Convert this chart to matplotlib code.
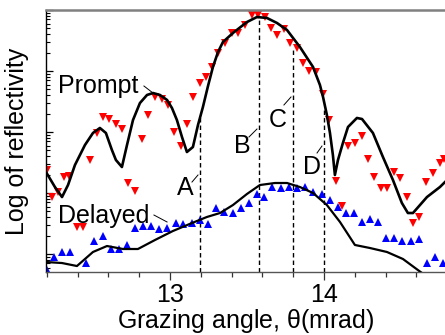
import matplotlib
matplotlib.use("Agg")
import matplotlib.pyplot as plt
import matplotlib.ticker as mticker
import numpy as np

plt.rcParams['font.family'] = ['Liberation Sans', 'DejaVu Sans']

### data (log10 of reflectivity, arbitrary units)
prompt_x = [12.195, 12.253, 12.299, 12.338, 12.383, 12.448, 12.5, 12.545, 12.584, 12.623,
            12.649, 12.688, 12.721, 12.760, 12.805, 12.851, 12.890, 12.935, 12.981, 13.013,
            13.045, 13.078, 13.110, 13.149, 13.182, 13.214, 13.247, 13.279, 13.312, 13.344,
            13.409, 13.5, 13.565, 13.630, 13.695, 13.760, 13.844, 13.929, 13.974, 13.994,
            14.019, 14.039, 14.058, 14.071, 14.091, 14.123, 14.156, 14.214, 14.247, 14.318,
            14.383, 14.448, 14.506, 14.545, 14.578, 14.669, 14.753, 14.786]
prompt_log = [1.344, 1.098, 0.934, 1.131, 1.459, 1.787, 1.984, 2.066, 1.984, 1.705,
              1.541, 1.426, 1.787, 2.197, 2.475, 2.607, 2.639, 2.607, 2.525, 2.393,
              2.197, 1.918, 1.672, 1.754, 2.115, 2.410, 2.754, 3.066, 3.311, 3.475,
              3.623, 3.803, 3.885, 3.869, 3.787, 3.672, 3.393, 3.066, 2.770, 2.574,
              2.279, 1.984, 1.623, 1.295, 1.541, 1.820, 2.082, 2.230, 2.213, 1.984,
              1.590, 1.213, 0.836, 0.672, 0.672, 0.934, 1.098, 1.180]

prompt_meas_x = [12.201, 12.234, 12.273, 12.312, 12.344, 12.396, 12.435, 12.481, 12.526, 12.565,
                 12.604, 12.649, 12.688, 12.727, 12.773, 12.818, 12.857, 12.903, 12.948, 12.987,
                 13.026, 13.071, 13.110, 13.149, 13.195, 13.234, 13.273, 13.312, 13.357, 13.403,
                 13.442, 13.487, 13.532, 13.571, 13.617, 13.656, 13.695, 13.740, 13.779, 13.825,
                 13.864, 13.903, 13.948, 13.994, 14.032, 14.078, 14.117, 14.156, 14.201, 14.247,
                 14.286, 14.325, 14.370, 14.409, 14.455, 14.494, 14.539, 14.578, 14.617, 14.662,
                 14.708, 14.753, 14.779]
prompt_meas_log = [1.377, 0.934, 1.016, 1.262, 1.279, 0.443, 0.443, 1.541, 1.984, 2.246,
                   2.213, 2.131, 2.049, 1.164, 1.033, 1.885, 2.279, 2.574, 2.541, 2.443,
                   2.0, 1.770, 2.131, 2.574, 2.803, 2.902, 3.066, 3.295, 3.459, 3.623,
                   3.623, 3.754, 3.918, 3.918, 3.885, 3.705, 3.590, 3.689, 3.459, 3.377,
                   3.131, 3.0, 2.984, 2.623, 2.197, 1.197, 0.787, 1.770, 1.820, 1.934,
                   1.557, 1.262, 1.082, 1.082, 1.344, 1.246, 0.934, 0.508, 0.607, 1.180,
                   1.328, 1.492, 1.557]

delayed_x = [12.195, 12.299, 12.396, 12.5, 12.591, 12.695, 12.792, 12.903, 13.019, 13.143,
             13.240, 13.325, 13.409, 13.5, 13.584, 13.682, 13.760, 13.844, 13.929, 14.019,
             14.104, 14.201, 14.299, 14.409, 14.513, 14.636, 14.753]
delayed_log = [-0.131, -0.148, -0.197, 0.033, 0.131, 0.082, 0.082, 0.230, 0.377, 0.508,
               0.607, 0.672, 0.803, 0.984, 1.131, 1.164, 1.164, 1.098, 1.0, 0.803,
               0.525, 0.148, 0.098, 0.033, -0.082, -0.311, -0.59]

delayed_meas_x = [12.201, 12.247, 12.299, 12.351, 12.455, 12.506, 12.565, 12.617, 12.669, 12.721,
                  12.773, 12.825, 12.877, 12.929, 12.981, 13.039, 13.084, 13.143, 13.195, 13.247,
                  13.299, 13.351, 13.409, 13.461, 13.513, 13.565, 13.610, 13.662, 13.721, 13.773,
                  13.825, 13.877, 13.929, 13.987, 14.039, 14.091, 14.143, 14.195, 14.247, 14.299,
                  14.351, 14.403, 14.455, 14.506, 14.565, 14.617, 14.669, 14.721, 14.773]
delayed_meas_log = [-0.262, -0.049, 0.033, 0.033, -0.148, 0.213, 0.295, 0.082, 0.082, 0.148,
                    0.426, 0.459, 0.459, 0.410, 0.426, 0.508, 0.492, 0.508, 0.557, 0.492,
                    0.754, 0.689, 0.672, 0.754, 0.836, 0.984, 0.934, 1.098, 1.082, 1.098,
                    1.082, 1.098, 1.016, 0.984, 0.885, 0.770, 0.672, 0.672, 0.525, 0.574,
                    0.525, 0.262, 0.262, 0.213, 0.213, 0.246, -0.148, -0.049, -0.148]

# marked angles A-D and the top of each dashed line
mark_names = ["A", "B", "C", "D"]
mark_x = [13.195, 13.58, 13.80, 14.0]
mark_top_log = [2.28, 3.85, 3.38, 2.41]

ymin_log, ymax_log = -0.295, 4.0
xmin, xmax = 12.195, 14.786

to_lin = lambda v: 10.0 ** np.asarray(v)

fig = plt.figure(figsize=(4.45, 3.35), dpi=100)
ax = fig.add_axes([46/445, 63/335, 399/445, 262/335])

ax.plot(prompt_meas_x, to_lin(prompt_meas_log), 'v', color='#ff0000', ms=5.5, mew=0, zorder=2)
ax.plot(delayed_meas_x, to_lin(delayed_meas_log), '^', color='#0000ff', ms=5.5, mew=0, zorder=2)
ax.plot(prompt_x, to_lin(prompt_log), '-', color='black', lw=1.9, zorder=3)
ax.plot(delayed_x, to_lin(delayed_log), '-', color='black', lw=1.6, zorder=3)

ax.vlines(mark_x, 10**ymin_log, to_lin(mark_top_log), colors='black',
          linestyles=(0, (3.2, 2.2)), lw=1.0, zorder=1)

ax.set_yscale('log')
ax.set_xlim(xmin, xmax)
ax.set_ylim(10**ymin_log, 10**ymax_log)

# labels on the plot
fs = 18
lead = dict(color='black', lw=0.7)
ax.text(13.097, 10**0.967, "A", fontsize=fs, ha='center', va='baseline')
ax.plot([13.143, 13.182], to_lin([1.18, 1.295]), **lead)
ax.text(13.468, 10**1.656, "B", fontsize=fs, ha='center', va='baseline')
ax.plot([13.513, 13.565], to_lin([1.918, 2.049]), **lead)
ax.text(13.701, 10**2.082, "C", fontsize=fs, ha='center', va='baseline')
ax.plot([13.740, 13.786], to_lin([2.443, 2.574]), **lead)
ax.text(13.922, 10**1.311, "D", fontsize=fs, ha='center', va='baseline')
ax.plot([13.955, 13.987], to_lin([1.656, 1.770]), **lead)

ax.text(12.536, 10**2.639, "Prompt", fontsize=fs, ha='center', va='baseline')
ax.plot([12.831, 12.890], to_lin([2.754, 2.639]), **lead)
ax.text(12.568, 10**0.508, "Delayed", fontsize=fs, ha='center', va='baseline')
ax.plot([12.896, 12.981], to_lin([0.639, 0.525]), **lead)

# axes styling
ax.spines['right'].set_visible(False)
ax.spines['top'].set_color('#808080')
ax.spines['top'].set_linewidth(1.8)
ax.spines['bottom'].set_color('#555555')
ax.spines['bottom'].set_linewidth(1.0)
ax.spines['left'].set_color('black')
ax.spines['left'].set_linewidth(1.0)

ax.xaxis.set_major_locator(mticker.FixedLocator([13, 14]))
ax.xaxis.set_minor_locator(mticker.MultipleLocator(0.2))
ax.tick_params(axis='x', which='major', direction='out', length=6, width=0.9,
               color='#333333', labelsize=fs, pad=2)
ax.tick_params(axis='x', which='minor', direction='out', length=3.5, width=0.9, color='#333333')

ax.yaxis.set_major_locator(mticker.LogLocator(base=10))
ax.yaxis.set_minor_locator(mticker.LogLocator(base=10, subs=np.arange(2, 10)))
ax.yaxis.set_major_formatter(mticker.NullFormatter())
ax.yaxis.set_minor_formatter(mticker.NullFormatter())
ax.tick_params(axis='y', which='major', direction='in', length=5, width=0.9)
ax.tick_params(axis='y', which='minor', direction='in', length=3, width=0.8)

ax.set_xlabel(r"Grazing angle, $\mathregular{\theta}$(mrad)", fontsize=fs, labelpad=0)
ax.set_ylabel("Log of reflectivity", fontsize=fs, labelpad=9)

fig.savefig("out.png", dpi=100)
